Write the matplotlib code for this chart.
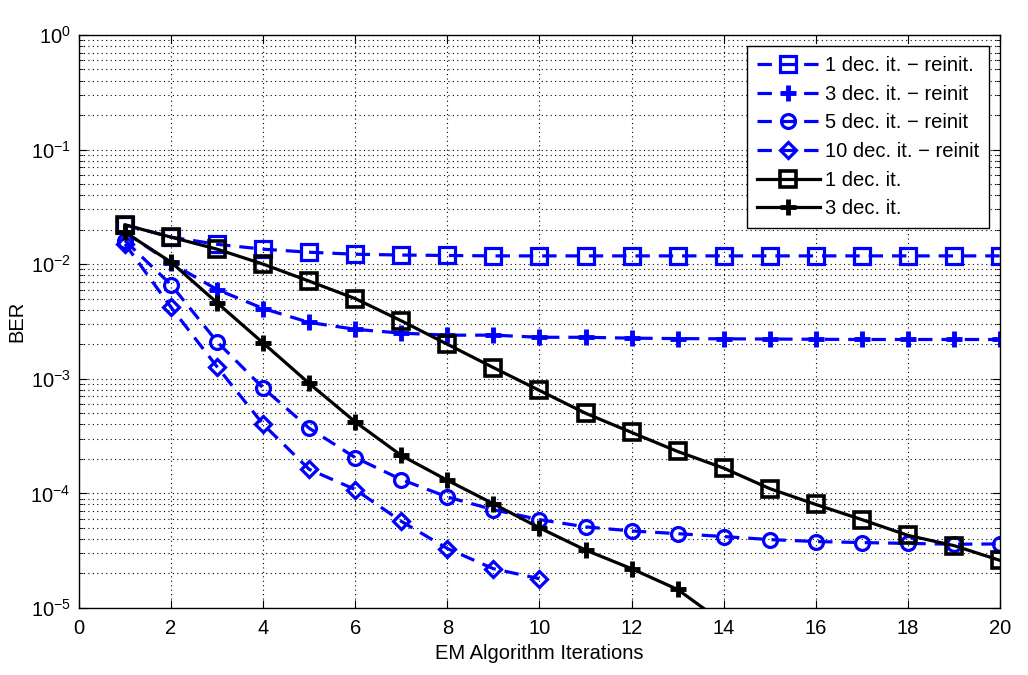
import numpy as np
import matplotlib
matplotlib.use('Agg')
from matplotlib import pyplot as plt
from matplotlib.ticker import LogLocator, MultipleLocator, NullFormatter

plt.rcParams['font.family'] = ['Liberation Sans', 'DejaVu Sans']
plt.rcParams['mathtext.fontset'] = 'custom'
plt.rcParams['mathtext.rm'] = 'Liberation Sans'

# EM iterations
iters = np.arange(1, 21)

# BER values
ber_1dec_reinit = [0.022, 0.0172, 0.0149, 0.0135, 0.0127, 0.0122, 0.0120, 0.0119, 0.0118, 0.0118,
                   0.0118, 0.0118, 0.0118, 0.0118, 0.0118, 0.0118, 0.0118, 0.0118, 0.0118, 0.0118]
ber_3dec_reinit = [0.019, 0.0102, 0.0060, 0.0041, 0.0031, 0.0027, 0.0025, 0.0024, 0.0024, 0.0023,
                   0.0023, 0.00226, 0.00224, 0.00223, 0.00222, 0.00221, 0.0022, 0.0022, 0.0022, 0.0022]
ber_5dec_reinit = [0.016, 0.0066, 0.0021, 0.00083, 0.00037, 0.000205, 0.000132, 9.3e-5, 7.2e-5, 5.9e-5,
                   5.1e-5, 4.7e-5, 4.45e-5, 4.2e-5, 3.95e-5, 3.8e-5, 3.72e-5, 3.66e-5, 3.6e-5, 3.62e-5]
iters_10 = np.arange(1, 11)
ber_10dec_reinit = [0.015, 0.0042, 0.00127, 0.0004, 0.000162, 0.000108, 5.7e-5, 3.3e-5, 2.2e-5, 1.8e-5]
ber_1dec = [0.022, 0.0172, 0.0135, 0.0100, 0.0071, 0.0050, 0.0032, 0.0020, 0.00125, 0.00079,
            0.0005, 0.00034, 0.000232, 0.000166, 0.00011, 8.0e-5, 5.9e-5, 4.3e-5, 3.5e-5, 2.6e-5]
iters_3 = np.arange(1, 15)
ber_3dec = [0.019, 0.0104, 0.0046, 0.00205, 0.00091, 0.00042, 0.000214, 0.00013, 8.1e-5, 5.0e-5,
            3.2e-5, 2.2e-5, 1.45e-5, 7.4e-6]

fs = 14.5

fig = plt.figure(figsize=(10.28, 6.75), dpi=100)
ax = fig.add_axes([0.0768, 0.0993, 0.896, 0.849])

blue = '#0000ff'
dash = (0, (4.5, 2.8))
kw_b = dict(color=blue, lw=2.3, linestyle=dash, mfc='none', mec=blue, mew=2.3)
kw_k = dict(color='k', lw=2.3, linestyle='-', mfc='none', mec='k', mew=2.3)

ax.semilogy(iters, ber_1dec_reinit, marker='s', ms=11, label='1 dec. it. \u2212 reinit.', **kw_b)
ax.semilogy(iters, ber_3dec_reinit, marker='+', ms=11, label='3 dec. it. \u2212 reinit', **dict(kw_b, mew=3.5))
ax.semilogy(iters, ber_5dec_reinit, marker='o', ms=10, label='5 dec. it. \u2212 reinit', **kw_b)
ax.semilogy(iters_10, ber_10dec_reinit, marker='D', ms=8, label='10 dec. it. \u2212 reinit', **kw_b)
ax.semilogy(iters, ber_1dec, marker='s', ms=12, label='1 dec. it.', **dict(kw_k, mew=2.6))
ax.semilogy(iters_3, ber_3dec, marker='+', ms=11, label='3 dec. it.', **dict(kw_k, mew=3.5))

ax.set_xlim(0, 20)
ax.set_ylim(1e-5, 1)
ax.xaxis.set_major_locator(MultipleLocator(2))
ax.yaxis.set_major_locator(LogLocator(base=10, numticks=10))
ax.yaxis.set_minor_locator(LogLocator(base=10, subs=np.arange(2, 10), numticks=100))
ax.yaxis.set_minor_formatter(NullFormatter())

ax.grid(True, which='major', axis='both', color='k', linestyle=(0, (1, 3)), lw=0.8)
ax.grid(True, which='minor', axis='y', color='k', linestyle=(0, (1, 3)), lw=0.8)
ax.tick_params(which='both', direction='in', top=True, right=True, labelsize=fs)
ax.tick_params(which='major', length=6)
ax.tick_params(which='minor', length=3)
ax.tick_params(axis='x', pad=8)
ax.tick_params(axis='y', pad=6)
for s in ax.spines.values():
    s.set_linewidth(1.0)

ax.set_xlabel('EM Algorithm Iterations', fontsize=fs, labelpad=4)
ax.set_ylabel('BER', fontsize=fs, labelpad=3)

leg = ax.legend(loc='upper right', fontsize=fs, handlelength=3.1, handletextpad=0.25,
                borderaxespad=0.55, labelspacing=0.48, fancybox=False, framealpha=1,
                edgecolor='k', borderpad=0.5)
leg.get_frame().set_linewidth(1.0)

plt.savefig('out.png', dpi=100)
plt.close()
